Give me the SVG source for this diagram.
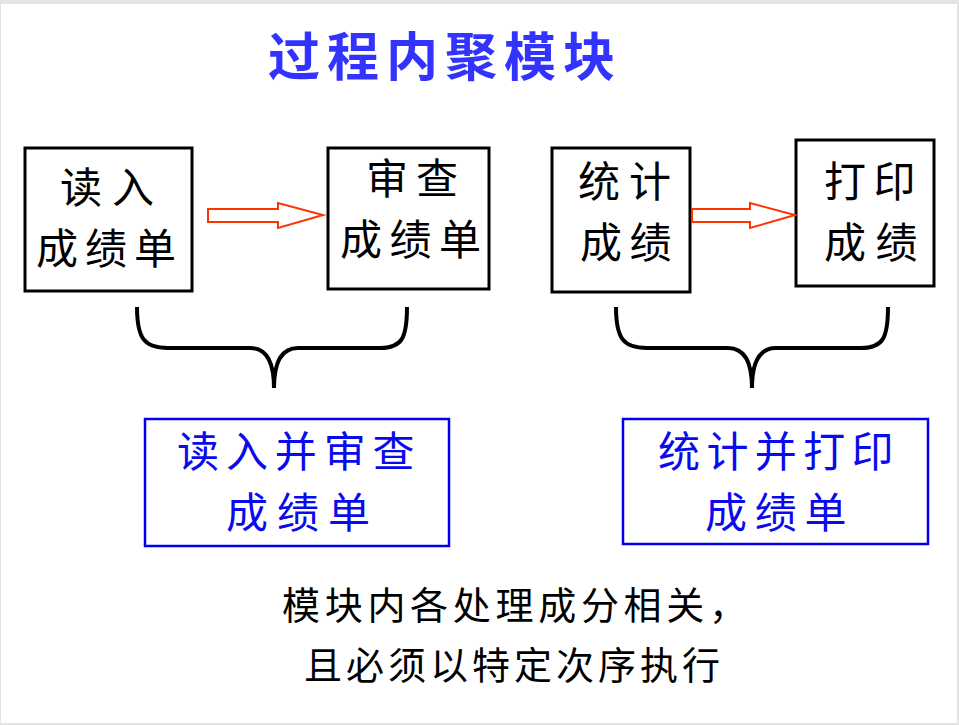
<svg xmlns="http://www.w3.org/2000/svg" width="959" height="725" viewBox="0 0 959 725">
<style>
.box{fill:#fff;stroke:#000;stroke-width:3}
.bbox{fill:#fff;stroke:#0000ee;stroke-width:2.5}
.t{font-family:"Noto Sans CJK SC","Noto Sans CJK JP",sans-serif;font-size:42px;fill:#000}
.bt{font-family:"Noto Sans CJK SC","Noto Sans CJK JP",sans-serif;font-size:42px;fill:#0a0aee}
.note{font-family:"Noto Sans CJK SC","Noto Sans CJK JP",sans-serif;font-size:38px;fill:#000}
.arrow{fill:#fff;stroke:#ff3300;stroke-width:2;stroke-linejoin:miter}
.brace{fill:none;stroke:#000;stroke-width:4;stroke-linecap:butt}
</style>
<rect x="0" y="0" width="959" height="725" fill="#e3e3e3"/>
<rect x="1" y="4" width="956" height="719" fill="#fff"/>
<text x="268" y="76" font-family="'Noto Sans CJK SC','Noto Sans CJK JP',sans-serif" font-size="52" font-weight="bold" fill="#3333ff" letter-spacing="7">过程内聚模块</text>
<g id="read">
<rect class="box" x="25" y="148" width="167" height="143"/>
<text class="t" x="60" y="203" letter-spacing="10">读入</text>
<text class="t" x="36" y="264" letter-spacing="7">成绩单</text>
</g>
<g id="check">
<rect class="box" x="328" y="148" width="161" height="141"/>
<text class="t" x="366" y="194" letter-spacing="8">审查</text>
<text class="t" x="340" y="255" letter-spacing="7.5">成绩单</text>
</g>
<g id="stat">
<rect class="box" x="552" y="148" width="138" height="144"/>
<text class="t" x="578" y="197" letter-spacing="9">统计</text>
<text class="t" x="580" y="258" letter-spacing="7.5">成绩</text>
</g>
<g id="print">
<rect class="box" x="796" y="140" width="138" height="146"/>
<text class="t" x="824" y="197" letter-spacing="7.5">打印</text>
<text class="t" x="824" y="258" letter-spacing="9.5">成绩</text>
</g>
<g id="readcheck">
<rect class="bbox" x="145" y="419" width="304" height="127"/>
<text class="bt" x="177" y="467" letter-spacing="6.9">读入并审查</text>
<text class="bt" x="226" y="528" letter-spacing="9">成绩单</text>
</g>
<g id="statprint">
<rect class="bbox" x="623" y="419" width="305" height="125"/>
<text class="bt" x="658" y="467" letter-spacing="6.4">统计并打印</text>
<text class="bt" x="705" y="528" letter-spacing="7.7">成绩单</text>
</g>
<g id="connectors">
<polygon class="arrow" points="208,209 278,209 278,203 323,215 278,228 278,222 208,222"/>
<polygon class="arrow" points="692,209 750,209 750,203 795,215 750,228 750,222 692,222"/>
<path class="brace" d="M137,307 C137,338 144,348 168,348 L250,348 C266,348 274,362 274,388 C274,362 282,348 298,348 L380,348 C402,348 407,338 407,307"/>
<path class="brace" d="M616,307 C616,338 623,348 647,348 L728,348 C744,348 752,362 752,388 C752,362 760,348 776,348 L861,348 C883,348 888,338 888,307"/>
</g>
<text class="note" x="282" y="619" letter-spacing="4.7">模块内各处理成分相关，</text>
<text class="note" x="304" y="679" letter-spacing="4">且必须以特定次序执行</text>
</svg>
